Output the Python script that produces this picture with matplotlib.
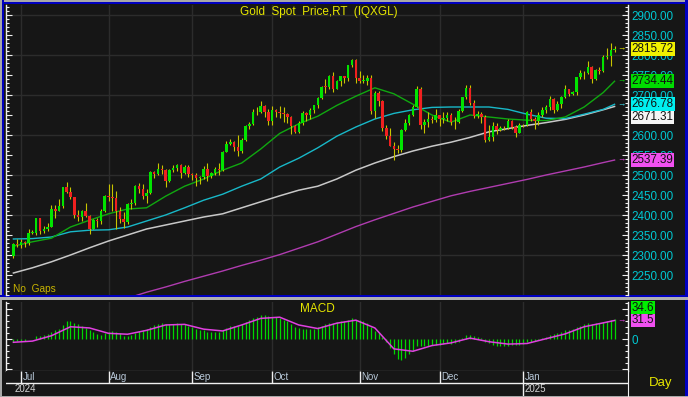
import numpy as np
import pandas as pd
import matplotlib
matplotlib.use("Agg")
import matplotlib.pyplot as plt
from matplotlib.patches import Rectangle
from matplotlib.ticker import MultipleLocator, FixedLocator, FixedFormatter

plt.rcParams["font.family"] = ["Liberation Sans", "DejaVu Sans"]

# ---------------------------------------------------------------------------
# Data
# ---------------------------------------------------------------------------

dates = pd.bdate_range("2024-06-27", "2025-02-04")   # daily bars, no gaps

opens = [
    2298, 2327,
    2326, 2332, 2329, 2356, 2356, 2392, 2359, 2364, 2371, 2415, 2411, 2422, 2469, 2458, 2445,
    2400, 2396, 2409, 2397, 2364, 2387, 2384, 2411,
    2447, 2446, 2443, 2409, 2390, 2382, 2427, 2431, 2472, 2465, 2447, 2456, 2507, 2503, 2514,
    2512, 2484, 2512, 2518, 2524, 2504, 2520,
    2503, 2500, 2493, 2495, 2516, 2497, 2506, 2516, 2512, 2558, 2578, 2582, 2569, 2559, 2587,
    2622, 2628, 2657, 2657, 2672, 2658,
    2634, 2662, 2658, 2656, 2653, 2644, 2622, 2608, 2630, 2656, 2649, 2662, 2674, 2693, 2721,
    2720, 2748, 2715, 2736, 2747, 2743, 2774, 2788,
    2743, 2736, 2736, 2743, 2659, 2706, 2685, 2618, 2598, 2572, 2565, 2562, 2613, 2631, 2651,
    2670, 2716, 2625, 2633, 2639, 2638,
    2650, 2640, 2643, 2650, 2632, 2633, 2660, 2694, 2718, 2680, 2648, 2652, 2646, 2587, 2595,
    2622, 2613, 2617, 2617, 2634, 2621, 2606,
    2624, 2624, 2658, 2640, 2635, 2649, 2662, 2670, 2690, 2663, 2677, 2696, 2715, 2703, 2708,
    2745, 2755, 2754, 2770, 2740, 2763, 2760, 2794,
    2798, 2813,
]
highs = [
    2331, 2339,
    2340, 2335, 2365, 2363, 2392, 2393, 2372, 2380, 2424, 2425, 2440, 2469, 2483, 2470, 2445,
    2412, 2412, 2431, 2401, 2389, 2392, 2414, 2451,
    2477, 2477, 2461, 2420, 2408, 2430, 2440, 2475, 2479, 2477, 2464, 2509, 2510, 2531, 2526,
    2514, 2514, 2526, 2528, 2527, 2526, 2525,
    2504, 2504, 2498, 2523, 2530, 2508, 2519, 2529, 2560, 2586, 2590, 2586, 2600, 2593, 2625,
    2632, 2664, 2670, 2685, 2674, 2665,
    2673, 2666, 2672, 2670, 2656, 2648, 2625, 2634, 2661, 2657, 2667, 2676, 2696, 2723, 2740,
    2749, 2758, 2738, 2748, 2748, 2775, 2790, 2790,
    2760, 2750, 2750, 2749, 2711, 2709, 2687, 2626, 2618, 2582, 2574, 2616, 2639, 2653, 2676,
    2722, 2721, 2641, 2657, 2647, 2665,
    2650, 2657, 2658, 2656, 2645, 2665, 2696, 2726, 2726, 2688, 2660, 2657, 2649, 2625, 2632,
    2630, 2622, 2622, 2639, 2638, 2624, 2630,
    2628, 2660, 2665, 2646, 2658, 2671, 2674, 2698, 2693, 2684, 2697, 2725, 2716, 2711, 2746,
    2763, 2759, 2786, 2772, 2766, 2769, 2800, 2817,
    2830, 2822,
]
lows = [
    2293, 2319,
    2318, 2319, 2325, 2353, 2350, 2353, 2354, 2359, 2369, 2392, 2409, 2417, 2454, 2440, 2393,
    2385, 2384, 2395, 2353, 2364, 2371, 2378, 2407,
    2434, 2409, 2364, 2380, 2368, 2377, 2414, 2425, 2455, 2441, 2431, 2453, 2492, 2499, 2503,
    2470, 2483, 2507, 2510, 2492, 2502, 2494,
    2488, 2472, 2477, 2489, 2485, 2492, 2500, 2500, 2510, 2557, 2574, 2560, 2547, 2555, 2584,
    2614, 2624, 2650, 2654, 2644, 2625,
    2624, 2645, 2643, 2633, 2630, 2603, 2605, 2604, 2625, 2636, 2640, 2654, 2667, 2690, 2705,
    2715, 2708, 2715, 2723, 2729, 2735, 2770, 2730,
    2731, 2730, 2725, 2652, 2643, 2672, 2610, 2590, 2572, 2537, 2555, 2558, 2610, 2625, 2648,
    2670, 2615, 2605, 2620, 2630, 2632,
    2622, 2631, 2635, 2625, 2614, 2630, 2657, 2690, 2674, 2643, 2642, 2630, 2583, 2584, 2584,
    2602, 2609, 2612, 2614, 2614, 2596, 2605,
    2620, 2622, 2635, 2614, 2625, 2645, 2655, 2662, 2656, 2660, 2668, 2692, 2697, 2699, 2699,
    2741, 2740, 2752, 2730, 2738, 2752, 2757, 2790,
    2772, 2808,
]
closes = [
    2327, 2326,
    2332, 2329, 2356, 2356, 2392, 2359, 2364, 2371, 2415, 2411, 2422, 2469, 2458, 2445, 2400,
    2396, 2409, 2397, 2364, 2387, 2384, 2411, 2447,
    2446, 2443, 2409, 2390, 2382, 2427, 2431, 2472, 2465, 2447, 2456, 2507, 2503, 2514, 2512,
    2484, 2512, 2518, 2524, 2504, 2520, 2503,
    2500, 2493, 2495, 2516, 2497, 2506, 2516, 2512, 2558, 2578, 2582, 2569, 2559, 2587, 2622,
    2628, 2657, 2657, 2672, 2658, 2634,
    2662, 2658, 2656, 2653, 2644, 2622, 2608, 2630, 2656, 2649, 2662, 2674, 2693, 2721, 2720,
    2748, 2715, 2736, 2747, 2743, 2774, 2788, 2743,
    2736, 2736, 2743, 2659, 2706, 2685, 2618, 2598, 2572, 2565, 2562, 2613, 2631, 2651, 2670,
    2716, 2625, 2633, 2639, 2638, 2650,
    2640, 2643, 2650, 2632, 2633, 2660, 2694, 2718, 2680, 2648, 2652, 2646, 2587, 2595, 2622,
    2613, 2617, 2617, 2634, 2621, 2606, 2624,
    2624, 2658, 2640, 2635, 2649, 2662, 2670, 2690, 2663, 2677, 2696, 2715, 2703, 2708, 2745,
    2755, 2754, 2770, 2740, 2763, 2760, 2794, 2798,
    2813, 2815.72,
]

# moving averages, read at every 5th bar
ma_idx = [0, 5, 10, 15, 20, 25, 30, 35, 40, 45, 50, 55, 60, 65, 70, 75, 80,
          85, 90, 95, 100, 105, 110, 115, 120, 125, 130, 135, 140, 145, 150, 155, 158]
ma20 = [2322, 2333, 2342, 2370, 2387, 2403, 2415, 2418, 2447, 2472, 2490, 2512, 2530, 2565,
        2604, 2628, 2647, 2674, 2697, 2718, 2703, 2677, 2650, 2632, 2650, 2645, 2640, 2637,
        2636, 2645, 2670, 2706, 2734.44]
ma50 = [2340, 2341, 2345, 2358, 2362, 2363, 2370, 2385, 2400, 2418, 2437, 2452, 2472, 2490,
        2520, 2542, 2568, 2597, 2620, 2640, 2654, 2663, 2669, 2670, 2670, 2670, 2664, 2652,
        2642, 2641, 2652, 2664, 2676.78]
ma100 = [2255, 2268, 2283, 2300, 2318, 2335, 2350, 2365, 2375, 2385, 2395, 2403, 2418, 2433,
         2448, 2462, 2472, 2490, 2512, 2530, 2546, 2560, 2572, 2582, 2594, 2608, 2616, 2624,
         2631, 2639, 2650, 2663, 2671.31]
ma200_idx = [32, 35, 40, 45, 50, 55, 60, 65, 70, 75, 80, 85, 90, 95, 100, 105, 110, 115,
             120, 125, 130, 135, 140, 145, 150, 155, 158]
ma200 = [2198, 2207, 2220, 2234, 2247, 2260, 2274, 2287, 2301, 2317, 2333, 2352, 2371, 2388,
         2404, 2420, 2434, 2448, 2459, 2469, 2479, 2489, 2500, 2510, 2520, 2531, 2537.39]

# MACD line (one value per bar) and its signal line (every 5th bar)
macd = [
    -4, -3,
    -3, -2, 0, 1, 5, 6, 7, 9, 13, 15, 18, 24, 30, 31, 28,
    25, 22, 19, 15, 12, 9, 8, 11,
    13, 14, 13, 10, 6, 5, 7, 11, 14, 16, 18, 21, 24, 26, 27,
    25, 26, 26, 27, 25, 25, 23,
    20, 17, 15, 15, 13, 13, 13, 13, 15, 19, 22, 23, 23, 25, 29,
    32, 36, 38, 40, 41, 39,
    38, 37, 35, 33, 30, 26, 21, 19, 18, 17, 17, 18, 20, 23, 25,
    28, 28, 29, 30, 31, 33, 35, 33,
    32, 30, 27, 20, 14, 10, 4, -4, -14, -24, -33, -35, -31, -25, -19,
    -12, -12, -12, -11, -10, -9,
    -9, -8, -7, -8, -7, -4, 2, 8, 8, 6, 4, 2, -4, -7, -9,
    -11, -12, -12, -11, -10, -10, -9,
    -8, -5, -4, -3, -1, 2, 4, 8, 9, 10, 12, 15, 16, 17, 20,
    23, 25, 27, 26, 27, 27, 29, 30,
    32, 34.6,
]
sig_idx = ma_idx
signal = [-5, -3, 6, 21, 19, 10, 8.5, 15, 24, 25, 17, 14, 24, 35, 37, 24, 18, 27, 32, 19,
          -16, -20, -10.5, -6, 2, -4, -8, -7, 1, 9, 21, 27.5, 31.5]

month_keys = [(2024, 7), (2024, 8), (2024, 9), (2024, 10), (2024, 11), (2024, 12), (2025, 1)]
month_labels = ["Jul", "Aug", "Sep", "Oct", "Nov", "Dec", "Jan"]
year_keys = [2024, 2025]

# ---------------------------------------------------------------------------
# Style
# ---------------------------------------------------------------------------

BG = "#161616"
GRID = "#2c2c2c"
WHITE = "#f0f0f0"
CYAN_TXT = "#00c8d2"
UP = "#00e400"
DOWN = "#f02020"
WICK = "#c8c400"
C_MA20 = "#10a810"
C_MA50 = "#18b8c8"
C_MA100 = "#c8c8c8"
C_MA200 = "#b03cb0"
C_MACD = "#00d800"
C_SIG = "#e040e0"
YELLOW = "#e6e600"

W, H = 688, 397


def rect(x0, y0, x1, y1):
    """Pixel box (top-left origin) -> figure fraction rect."""
    return [x0 / W, 1 - y1 / H, (x1 - x0) / W, (y1 - y0) / H]


fig = plt.figure(figsize=(W / 100, H / 100), dpi=100, facecolor=BG)

# frame decoration in pixel space
bg = fig.add_axes([0, 0, 1, 1], zorder=0)
bg.set_xlim(0, W)
bg.set_ylim(H, 0)
bg.axis("off")
for (x, y, w, h, c) in [
    (0, 0, W, 1.5, "#a8a8a8"), (0, 1.5, W, 2.5, "#0000c0"),
    (0, 0, 1.5, H, "#a8a8a8"), (1.5, 0, 2.5, 296, "#0000c0"),
    (W - 3, 0, 3, H, "#0000c0"),
    (0, 294.5, W, 2.5, "#0000c0"), (0, 297, W, 2.5, "#b0b0b0"),
    (0, H - 1.5, W, 1.5, "#a8a8a8"),
]:
    bg.add_patch(Rectangle((x, y), w, h, color=c, lw=0))
bg.text(649, 383, "Day", color=YELLOW, fontsize=9.5, va="center", ha="left")

x = np.arange(len(dates))
month_pos = [int(np.argmax((dates.year == y) & (dates.month == m))) for y, m in month_keys]
year_pos = [int(np.argmax(dates.year == y)) for y in year_keys]
XLIM = (-2.08, 161.4)


def style_axis(a):
    a.set_facecolor(BG)
    a.set_xlim(*XLIM)
    for s in ("top", "bottom"):
        a.spines[s].set_visible(False)
    for s in ("left", "right"):
        a.spines[s].set_color(WHITE)
        a.spines[s].set_linewidth(1.0)
    a.yaxis.set_minor_locator(MultipleLocator(10))
    a.tick_params(axis="y", which="both", direction="in", colors=WHITE,
                  left=True, right=True, labelleft=False, labelright=True)
    a.tick_params(axis="y", which="major", length=4, width=0.8,
                  labelcolor=CYAN_TXT, labelsize=8.4, pad=3)
    a.tick_params(axis="y", which="minor", length=2, width=0.8)
    a.tick_params(axis="x", bottom=False, labelbottom=False)
    for p in month_pos:
        a.axvline(p, color=GRID, lw=1.0, zorder=0)


def tag(a, y, text, fc, dy=0, tc="#101010"):
    a.annotate(text, xy=(1, y), xycoords=("axes fraction", "data"),
               xytext=(4, dy), textcoords="offset pixels",
               ha="left", va="center", fontsize=8.4, color=tc,
               bbox=dict(boxstyle="square,pad=0.08", fc=fc, ec="none"),
               annotation_clip=False, zorder=6)


def arrow(a, y, color):
    a.annotate("\u2192", xy=(1, y), xycoords=("axes fraction", "data"),
               xytext=(-6, 0), textcoords="offset pixels",
               ha="center", va="center", fontsize=6, color=color,
               annotation_clip=False, zorder=6)


# ---------------------------------------------------------------------------
# Price panel
# ---------------------------------------------------------------------------
ax = fig.add_axes(rect(5.5, 5, 627.5, 295), zorder=2)
style_axis(ax)
ax.set_ylim(2200, 2925)
ax.yaxis.set_major_locator(FixedLocator(np.arange(2250, 2901, 50)))
ax.yaxis.set_major_formatter(lambda v, p: f"{v:.2f}")
for lvl in np.arange(2300, 2901, 100):
    ax.axhline(lvl, color=GRID, lw=1.0, zorder=0)

o = np.array(opens, float)
c = np.array(closes, float)
hi = np.array(highs, float)
lo = np.array(lows, float)
up = c >= o
body = np.maximum(np.abs(c - o), 1.5)
ax.vlines(x, lo, hi, color=WICK, lw=0.8, zorder=2)
ax.bar(x[up], body[up], bottom=np.minimum(o, c)[up], width=0.66, color=UP, lw=0, zorder=3)
ax.bar(x[~up], body[~up], bottom=np.minimum(o, c)[~up], width=0.66, color=DOWN, lw=0, zorder=3)

ax.plot(ma200_idx, ma200, color=C_MA200, lw=1.0, zorder=1)
ax.plot(ma_idx, ma100, color=C_MA100, lw=1.1, zorder=1)
ax.plot(ma_idx, ma50, color=C_MA50, lw=1.0, zorder=1)
ax.plot(ma_idx, ma20, color=C_MA20, lw=1.0, zorder=1)

ax.text(0.377, 0.976, "Gold  Spot  Price,RT  (IQXGL)", transform=ax.transAxes,
        color=YELLOW, fontsize=8.5, ha="left", va="center")
ax.text(0.012, 0.022, "No  Gaps", transform=ax.transAxes, color="#c8b400",
        fontsize=7.3, ha="left", va="center")

tag(ax, closes[-1], f"{closes[-1]:.2f}", "#f0f000")
tag(ax, ma20[-1], f"{ma20[-1]:.2f}", "#00dc00")
tag(ax, ma50[-1], f"{ma50[-1]:.2f}", "#00f0f0")
tag(ax, ma100[-1], f"{ma100[-1]:.2f}", "#f4f4f4", dy=-11)
tag(ax, ma200[-1], f"{ma200[-1]:.2f}", "#f050f0")
arrow(ax, closes[-1], "#e6e600")
arrow(ax, ma20[-1], "#00d000")
arrow(ax, ma50[-1], "#40e0f0")
arrow(ax, ma200[-1], "#e040e0")

# ---------------------------------------------------------------------------
# MACD panel
# ---------------------------------------------------------------------------
am = fig.add_axes(rect(5.5, 302, 627.5, 371), zorder=2)
style_axis(am)
am.set_ylim(-53, 62.4)
am.yaxis.set_major_locator(FixedLocator([-50, 0, 50]))
am.yaxis.set_major_formatter(FixedFormatter(["", "0", ""]))
am.spines["bottom"].set_visible(True)
am.spines["bottom"].set_color(WHITE)
am.vlines(x, 0, macd, color=C_MACD, lw=0.9, zorder=2)
am.plot(sig_idx, signal, color=C_SIG, lw=1.1, zorder=3)
am.text(0.473, 0.9, "MACD", transform=am.transAxes, color=YELLOW,
        fontsize=8.5, ha="left", va="center")
tag(am, macd[-1], f"{macd[-1]:.1f}", "#00f000", dy=10.5)
tag(am, signal[-1], f"{signal[-1]:.1f}", "#f050f0")
arrow(am, signal[-1], "#e040e0")

# ---------------------------------------------------------------------------
# Date axis
# ---------------------------------------------------------------------------
ad = fig.add_axes(rect(5.5, 371, 627.5, 395.5), zorder=2)
ad.set_facecolor(BG)
ad.set_xlim(*XLIM)
ad.set_ylim(0, 1)
for s in ("top", "bottom", "left"):
    ad.spines[s].set_visible(False)
ad.spines["right"].set_color(WHITE)
ad.set_xticks([])
ad.set_yticks([])
ad.axhline(0.5, color=WHITE, lw=1.0)
ad.vlines(month_pos, 0.5, 1.0, color=WHITE, lw=1.0)
ad.vlines(year_pos[1:], 0.0, 0.5, color=WHITE, lw=1.0)
for p, lab in zip(month_pos, month_labels):
    ad.text(p + 0.4, 0.74, lab, color="#b8c8d8", fontsize=7, ha="left", va="center")
for p, y in zip(year_pos, year_keys):
    ad.text(p + 0.4, 0.26, str(y), color="#d8d8d8", fontsize=7, ha="left", va="center")

fig.savefig("out.png", dpi=100, facecolor=BG)
